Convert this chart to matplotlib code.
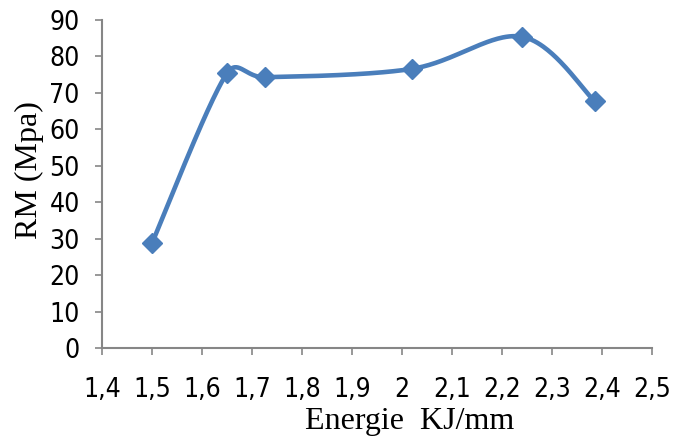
import numpy as np
import matplotlib
matplotlib.use("Agg")
import matplotlib.pyplot as plt
from matplotlib import font_manager

energie = [1.50, 1.65, 1.725, 2.02, 2.24, 2.385]
rm = [28.8, 75.4, 74.3, 76.6, 85.4, 67.8]
x_ticks = [1.4, 1.5, 1.6, 1.7, 1.8, 1.9, 2.0, 2.1, 2.2, 2.3, 2.4, 2.5]
x_tick_labels = ["1,4", "1,5", "1,6", "1,7", "1,8", "1,9", "2", "2,1", "2,2", "2,3", "2,4", "2,5"]
y_ticks = [0, 10, 20, 30, 40, 50, 60, 70, 80, 90]

names = {f.name for f in font_manager.fontManager.ttflist}
condensed = [f for f in font_manager.fontManager.ttflist
             if f.name == "DejaVu Sans" and str(f.stretch) in ("condensed", "semi-condensed", "600")]
if "Liberation Sans Narrow" in names:
    tick_font = dict(family="Liberation Sans Narrow")
elif condensed:
    tick_font = dict(family="DejaVu Sans", stretch="condensed")
else:
    tick_font = dict(family="DejaVu Sans")
serif_font = "Liberation Serif"

color = "#4A7EBB"
spine_c = "#868686"

W, H = 685, 441
L, B, AW, AH = 102, 348, 550, 328
X0, X1, Y0, Y1 = 1.4, 2.5, 0, 90


def excel_smooth(xs, ys, n=60):
    # work in pixel space so tangent limits are isotropic
    px = (np.asarray(xs, float) - X0) / (X1 - X0) * AW
    py = (np.asarray(ys, float) - Y0) / (Y1 - Y0) * AH
    P = np.column_stack([px, py])
    out = [P[0]]
    for i in range(len(P) - 1):
        p0 = P[i - 1] if i > 0 else P[i]
        p1 = P[i]
        p2 = P[i + 1]
        p3 = P[i + 2] if i + 2 < len(P) else P[i + 1]
        d12 = np.linalg.norm(p2 - p1)
        t1 = (p2 - p0) / 6.0
        t2 = (p3 - p1) / 6.0
        n1, n2 = np.linalg.norm(t1), np.linalg.norm(t2)
        if n1 > d12 / 2:
            t1 = t1 / n1 * d12 / 2
        if n2 > d12 / 2:
            t2 = t2 / n2 * d12 / 2
        b1 = p1 + t1
        b2 = p2 - t2
        t = np.linspace(0, 1, n)[1:, None]
        seg = ((1 - t) ** 3) * p1 + 3 * ((1 - t) ** 2) * t * b1 + 3 * (1 - t) * t ** 2 * b2 + t ** 3 * p2
        out.extend(seg)
    out = np.array(out)
    return X0 + out[:, 0] / AW * (X1 - X0), Y0 + out[:, 1] / AH * (Y1 - Y0)


fig = plt.figure(figsize=(W / 100, H / 100), dpi=100)
ax = fig.add_axes([L / W, 1 - B / H, AW / W, AH / H])

sx, sy = excel_smooth(energie, rm)
ax.plot(sx, sy, color=color, lw=3.3, solid_capstyle="round", solid_joinstyle="round", zorder=2)
ax.plot(energie, rm, linestyle="none", marker="D", markersize=10.5, color=color, zorder=3)

ax.set_xlim(X0, X1)
ax.set_ylim(Y0, Y1)
ax.set_xticks(x_ticks)
ax.set_xticklabels(x_tick_labels)
ax.set_yticks(y_ticks)

for s in ["top", "right"]:
    ax.spines[s].set_visible(False)
for s in ["left", "bottom"]:
    ax.spines[s].set_color(spine_c)
    ax.spines[s].set_linewidth(1.5)

ax.tick_params(axis="both", direction="out", length=5, width=1.2, color=spine_c)
ax.tick_params(axis="x", pad=16)
ax.tick_params(axis="y", pad=11)
for lab in ax.get_xticklabels() + ax.get_yticklabels():
    lab.set_fontfamily(tick_font["family"])
    if "stretch" in tick_font:
        lab.set_fontstretch(tick_font["stretch"])
    lab.set_fontsize(19)
    lab.set_color("#000000")

fig.text(410 / W, 1 - 422 / H, "Energie  KJ/mm", family=serif_font, fontsize=23,
         ha="center", va="center")
fig.text(29 / W, 1 - 170 / H, "RM (Mpa)", family=serif_font, fontsize=23,
         ha="center", va="center", rotation=90)

fig.savefig("out.png", dpi=100)
